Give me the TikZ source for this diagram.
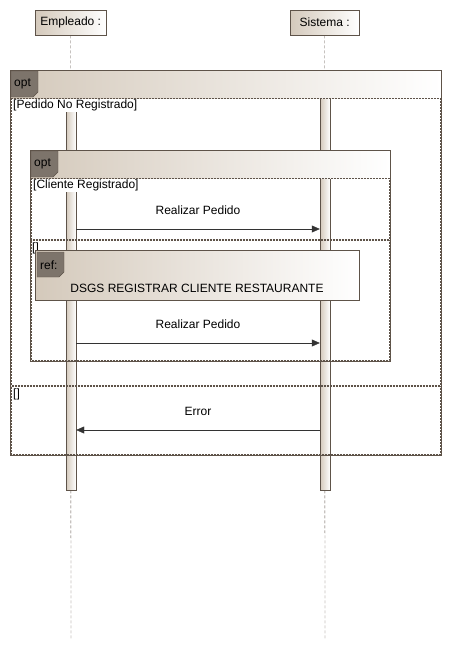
\documentclass[tikz,border=0pt]{standalone}
\usepackage{fontspec}
\setmainfont{Liberation Sans}
\usetikzlibrary{arrows.meta, positioning, calc}
\definecolor{umlline}{HTML}{5E5349}
\definecolor{umltan}{HTML}{D4C9BB}
\definecolor{umltab}{HTML}{7D746B}

\begin{document}
\begin{tikzpicture}[x = 1pt, y = -1pt, font=\fontsize{12}{14}\selectfont,
    cabeza/.style = {draw=umlline, left color=umltan, right color=white,
                     inner xsep=3pt, minimum height=25pt, anchor=north west},
    linea/.style = {draw=umlline, dash pattern=on 3pt off 2pt},
    barra/.style = {draw=umlline, left color=umltan, right color=white,
                    inner sep=0pt, minimum width=10pt},
    operando/.style = {draw=umlline, dash pattern=on 2pt off 1pt, line width=0.8pt},
    pestana/.style = {draw=umlline, fill=umltab},
    guarda/.style = {anchor=north west, inner sep=1pt, fill=white},
    mensaje/.style = {draw=black!80, -{Triangle[length=8pt, width=7pt]}}]

    \useasboundingbox (0,0) rectangle (452,651);

    % Cabezas de las lineas de vida
    \node[cabeza, minimum width=71pt] (empleado) at (35,10) {Empleado :};
    \node[cabeza, minimum width=69pt] (sistema) at (290,10) {Sistema :};

    % Lineas de vida (discontinuas)
    \coordinate (finE) at (71,640);
    \coordinate (finS) at (325,640);
    \draw[linea] (empleado.south) -- (finE);
    \draw[linea] (sistema.south) -- (finS);

    % Barras de activacion
    \node[barra, minimum height=392pt] (barE) at (71,294) {};
    \node[barra, minimum height=392pt] (barS) at (325,294) {};

    % Fragmento opt exterior
    \shade[left color=umltan, right color=white] (10,70) rectangle (441,98);
    \draw[umlline] (10,70) rectangle (441,455);
    \draw[operando] (11,98) rectangle (440,385.5);
    \draw[operando] (11,386.5) rectangle (440,454);
    \draw[pestana] (11,71) -- (38,71) -- (38,92) -- (33,97) -- (11,97) -- cycle;
    \node[anchor=west, inner sep=1pt] (opt1) at (13,84) {opt};
    \node[guarda] (g1) at (12,99) {[Pedido No Registrado]};
    \node[guarda] (g4) at (12,388) {[]};

    % Fragmento opt interior
    \shade[left color=umltan, right color=white] (30,150) rectangle (390,178);
    \draw[umlline] (30,150) rectangle (390,361);
    \draw[operando] (31,178) rectangle (389,239.5);
    \draw[operando] (31,240.5) rectangle (389,360);
    \draw[pestana] (31,151) -- (58,151) -- (58,172) -- (53,177) -- (31,177) -- cycle;
    \node[anchor=west, inner sep=1pt] (opt2) at (33,164) {opt};
    \node[guarda] (g2) at (32,179) {[Cliente Registrado]};
    \node[guarda, inner sep=0pt] (g3) at (32,243) {[]};

    % Referencia
    \shade[left color=umltan, right color=white] (35,250) rectangle (359,300);
    \draw[umlline] (35,250) rectangle (359,300);
    \draw[pestana] (37,252) -- (64,252) -- (64,272) -- (59,277) -- (37,277) -- cycle;
    \node[anchor=west, inner sep=1pt] (ref) at (39,265) {ref:};
    \node (dsgs) at (197,288) {DSGS REGISTRAR CLIENTE RESTAURANTE};

    % Mensajes
    \coordinate (y1) at (0,229);
    \coordinate (y2) at (0,343);
    \coordinate (y3) at (0,430);
    \draw[mensaje] (barE.east |- y1) -- node[yshift=19pt] (m1) {Realizar Pedido} (barS.west |- y1);
    \draw[mensaje] (barE.east |- y2) -- node[yshift=19pt] (m2) {Realizar Pedido} (barS.west |- y2);
    \draw[mensaje] (barS.west |- y3) -- node[yshift=19pt] (m3) {Error} (barE.east |- y3);

\end{tikzpicture}
\end{document}
